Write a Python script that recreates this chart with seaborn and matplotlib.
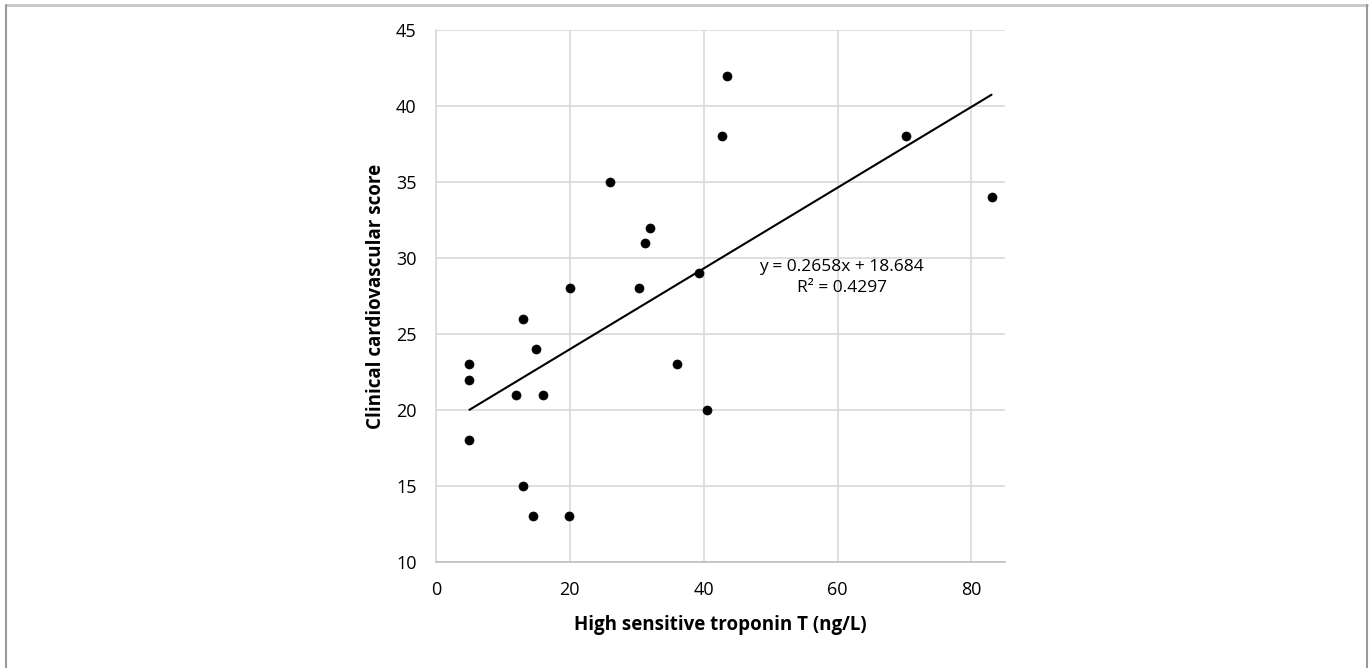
import numpy as np
import pandas as pd
import seaborn as sns
import matplotlib.pyplot as plt
from matplotlib.lines import Line2D
from matplotlib.ticker import MultipleLocator

troponin = [5, 5, 5, 12, 13, 13, 14.5, 15, 16, 20, 19.8, 26, 30.3, 31.3, 32, 36, 39.3, 40.5, 42.8, 43.5, 70.2, 83]
score = [23, 22, 18, 21, 26, 15, 13, 24, 21, 28, 13, 35, 28, 31, 32, 23, 29, 20, 38, 42, 38, 34]
slope = 0.2658
intercept = 18.684
eq_label = 'y = 0.2658x + 18.684\nR² = 0.4297'

df = pd.DataFrame({'troponin': troponin, 'score': score})

sns.set_theme(style='white')
plt.rcParams['font.family'] = ['Open Sans', 'DejaVu Sans']
plt.rcParams['text.color'] = 'black'
plt.rcParams['axes.labelcolor'] = 'black'
plt.rcParams['xtick.color'] = 'black'
plt.rcParams['ytick.color'] = 'black'

fig = plt.figure(figsize=(13.71, 6.68), dpi=100)
ax = fig.add_axes([0.318, 0.1587, 0.415, 0.7963])

# trendline over data range
fit_x = np.array([min(troponin), max(troponin)])
fit = pd.DataFrame({'x': fit_x, 'y': slope * fit_x + intercept})
sns.lineplot(data=fit, x='x', y='y', color='black', linewidth=1.5, ax=ax, zorder=3)
sns.scatterplot(data=df, x='troponin', y='score', color='black', s=42, edgecolor='black', ax=ax, zorder=4)

ax.set_xlim(0, 85)
ax.set_ylim(10, 45)
ax.xaxis.set_major_locator(MultipleLocator(20))
ax.xaxis.set_minor_locator(MultipleLocator(5))
ax.yaxis.set_major_locator(MultipleLocator(5))
ax.grid(True, which='major', color='#d9d9d9', linewidth=1.2)
ax.set_axisbelow(True)
for s in ['top', 'right']:
    ax.spines[s].set_visible(False)
ax.spines['left'].set_color('#d9d9d9')
ax.spines['left'].set_linewidth(1.2)
ax.spines['bottom'].set_color('#bfbfbf')
ax.spines['bottom'].set_linewidth(1.2)
ax.tick_params(axis='x', which='both', direction='out', length=5, color='#bfbfbf', width=1.2, labelsize=13, labelcolor='black')
ax.tick_params(axis='x', which='major', pad=9)
ax.tick_params(axis='y', which='both', length=0, labelsize=13, pad=14, labelcolor='black')

ax.set_xlabel('High sensitive troponin T (ng/L)', fontsize=13.5, fontweight='bold', labelpad=11, color='black')
ax.set_ylabel('Clinical cardiovascular score', fontsize=13.5, fontweight='bold', labelpad=7, color='black')

ax.text(60.6, 28.7, eq_label, ha='center', va='center', fontsize=12.5, linespacing=1.45, zorder=5, color='black')

# outer frame
fig.add_artist(Line2D([0.0045, 0.997], [0.992, 0.992], color='#c8c8c8', linewidth=2, transform=fig.transFigure))
fig.add_artist(Line2D([0.0045, 0.0045], [0.0, 0.992], color='#999999', linewidth=1.5, transform=fig.transFigure))
fig.add_artist(Line2D([0.997, 0.997], [0.0, 0.992], color='#999999', linewidth=1.5, transform=fig.transFigure))

fig.savefig('out.png', dpi=100)
